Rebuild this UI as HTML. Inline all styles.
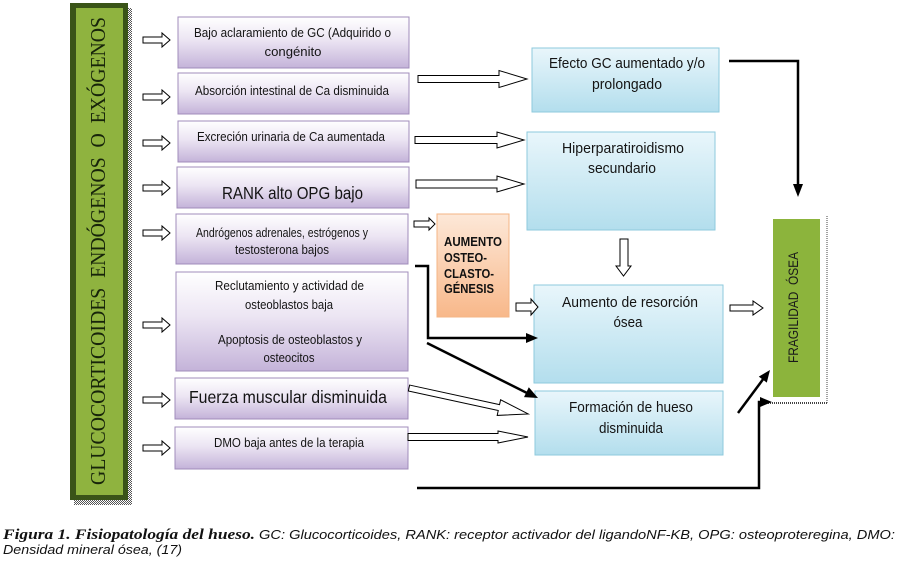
<!DOCTYPE html>
<html><head><meta charset="utf-8"><style>
html,body{margin:0;padding:0;background:#fff;}
svg{display:block;}
.bx{font-family:"Liberation Sans",sans-serif;fill:#141414;}
</style></head><body>
<svg width="898" height="565" viewBox="0 0 898 565" xmlns="http://www.w3.org/2000/svg">
<defs>
<linearGradient id="pu" x1="0" y1="0" x2="0" y2="1"><stop offset="0" stop-color="#ffffff"/><stop offset="0.45" stop-color="#ece5f3"/><stop offset="1" stop-color="#c4b3d9"/></linearGradient>
<linearGradient id="bl" x1="0" y1="0" x2="0" y2="1"><stop offset="0" stop-color="#e9f6fb"/><stop offset="1" stop-color="#b3deed"/></linearGradient>
<linearGradient id="or" x1="0" y1="0" x2="0" y2="1"><stop offset="0" stop-color="#fde8d8"/><stop offset="1" stop-color="#f8b88a"/></linearGradient>
<pattern id="dot" width="2" height="2" patternUnits="userSpaceOnUse"><rect width="1" height="1" fill="#555"/><rect x="1" y="1" width="1" height="1" fill="#555"/></pattern>
</defs>

<!-- left green bar -->
<rect x="74" y="8" width="58" height="497" fill="url(#dot)"/>
<rect x="70" y="3" width="58" height="497" fill="#3a5418"/>
<rect x="76" y="8" width="47" height="487" fill="#8fb33f"/>
<text transform="translate(105,485) rotate(-90)" font-family="'Liberation Serif',serif" font-size="21" fill="#17240a" textLength="468" lengthAdjust="spacingAndGlyphs" xml:space="preserve">GLUCOCORTICOIDES  ENDÓGENOS  O  EXÓGENOS</text>

<!-- left hollow arrows -->
<g fill="#fff" stroke="#000" stroke-width="1">
<polygon points="143,37 162,37 162,33 170,40 162,47 162,43 143,43"/>
<polygon points="143,94 162,94 162,90 170,97 162,104 162,100 143,100"/>
<polygon points="143,140 162,140 162,136 170,143 162,150 162,146 143,146"/>
<polygon points="143,185 162,185 162,181 170,188 162,195 162,191 143,191"/>
<polygon points="143,230 162,230 162,226 170,233 162,240 162,236 143,236"/>
<polygon points="143,322 162,322 162,318 170,325 162,332 162,328 143,328"/>
<polygon points="143,397 162,397 162,393 170,400 162,407 162,403 143,403"/>
<polygon points="143,445 162,445 162,441 170,448 162,455 162,451 143,451"/>
</g>

<!-- purple boxes -->
<g fill="url(#pu)" stroke="#a08cbb" stroke-width="1">
<rect x="178" y="17" width="231" height="51"/>
<rect x="178" y="73" width="231" height="41"/>
<rect x="178" y="121" width="231" height="41"/>
<rect x="177" y="167" width="232" height="41"/>
<rect x="176" y="214" width="232" height="50"/>
<rect x="176" y="272" width="232" height="99"/>
<rect x="175" y="378" width="233" height="41"/>
<rect x="175" y="427" width="233" height="42"/>
</g>
<g class="bx" font-size="12.5">
<text x="194" y="37" textLength="197" lengthAdjust="spacingAndGlyphs">Bajo aclaramiento de GC (Adquirido o</text>
<text x="293" y="56" text-anchor="middle" textLength="57" lengthAdjust="spacingAndGlyphs">congénito</text>
<text x="195" y="95" textLength="194" lengthAdjust="spacingAndGlyphs">Absorción intestinal de Ca disminuida</text>
<text x="197" y="141" textLength="188" lengthAdjust="spacingAndGlyphs">Excreción urinaria de Ca aumentada</text>
<text x="222" y="199" font-size="17.5" textLength="141" lengthAdjust="spacingAndGlyphs">RANK alto OPG bajo</text>
<text x="196" y="237" textLength="172" lengthAdjust="spacingAndGlyphs">Andrógenos adrenales, estrógenos y</text>
<text x="282" y="254" text-anchor="middle" textLength="94" lengthAdjust="spacingAndGlyphs">testosterona bajos</text>
<text x="215" y="290" textLength="149" lengthAdjust="spacingAndGlyphs">Reclutamiento y actividad de</text>
<text x="289" y="309" text-anchor="middle" textLength="88" lengthAdjust="spacingAndGlyphs">osteoblastos baja</text>
<text x="218" y="344" textLength="144" lengthAdjust="spacingAndGlyphs">Apoptosis de osteoblastos y</text>
<text x="289" y="362" text-anchor="middle" textLength="51" lengthAdjust="spacingAndGlyphs">osteocitos</text>
<text x="189" y="403" font-size="17.5" textLength="198" lengthAdjust="spacingAndGlyphs">Fuerza muscular disminuida</text>
<text x="214" y="447" textLength="150" lengthAdjust="spacingAndGlyphs">DMO baja antes de la terapia</text>
</g>

<!-- blue boxes -->
<g fill="url(#bl)" stroke="#8ecadd" stroke-width="1">
<rect x="532" y="48" width="187" height="64"/>
<rect x="527" y="132" width="188" height="98"/>
<rect x="534" y="285" width="189" height="98"/>
<rect x="535" y="391" width="188" height="64"/>
</g>
<g class="bx" font-size="14.5">
<text x="549" y="68" textLength="156" lengthAdjust="spacingAndGlyphs">Efecto GC aumentado y/o</text>
<text x="627" y="89" text-anchor="middle" textLength="70" lengthAdjust="spacingAndGlyphs">prolongado</text>
<text x="562" y="153" textLength="122" lengthAdjust="spacingAndGlyphs">Hiperparatiroidismo</text>
<text x="622" y="173" text-anchor="middle" textLength="68" lengthAdjust="spacingAndGlyphs">secundario</text>
<text x="562" y="307" textLength="136" lengthAdjust="spacingAndGlyphs">Aumento de resorción</text>
<text x="628" y="327" text-anchor="middle" textLength="29" lengthAdjust="spacingAndGlyphs">ósea</text>
<text x="569" y="412" textLength="124" lengthAdjust="spacingAndGlyphs">Formación de hueso</text>
<text x="631" y="433" text-anchor="middle" textLength="64" lengthAdjust="spacingAndGlyphs">disminuida</text>
</g>

<!-- orange box -->
<rect x="437" y="214" width="72" height="103" fill="url(#or)" stroke="#f4b585" stroke-width="1"/>
<g font-family="'Liberation Sans',sans-serif" font-weight="bold" font-size="12.5" fill="#111">
<text x="444" y="246" textLength="58" lengthAdjust="spacingAndGlyphs">AUMENTO</text>
<text x="444" y="262" textLength="43" lengthAdjust="spacingAndGlyphs">OSTEO-</text>
<text x="444" y="278" textLength="50" lengthAdjust="spacingAndGlyphs">CLASTO-</text>
<text x="444" y="293" textLength="50" lengthAdjust="spacingAndGlyphs">GÉNESIS</text>
</g>

<!-- fragility box -->
<rect x="768" y="216" width="59" height="187" fill="#fff"/>
<line x1="827" y1="216" x2="827" y2="403" stroke="#444" stroke-width="1" stroke-dasharray="1,1"/>
<line x1="768" y1="403" x2="827" y2="403" stroke="#444" stroke-width="2" stroke-dasharray="1,1"/>
<rect x="773" y="219" width="47" height="178" fill="#8cb43c"/>
<text transform="translate(798,363) rotate(-90)" font-family="'Liberation Sans',sans-serif" font-size="13.5" fill="#1a1a1a" textLength="111" lengthAdjust="spacingAndGlyphs" xml:space="preserve">FRAGILIDAD  ÓSEA</text>

<!-- hollow arrows right side -->
<g fill="#fff" stroke="#000" stroke-width="1">
<polygon points="418,75.5 499,75.5 499,70.5 527,79 499,87.5 499,82.5 418,82.5"/>
<polygon points="415,136.5 497,136.5 497,132 524,140 497,148 497,143.5 415,143.5"/>
<polygon points="416,180 497,180 497,176 524,184 497,192 497,188 416,188"/>
<polygon points="414,221 429,221 429,218 435,224 429,230 429,227 414,227"/>
<polygon points="620,239 628,239 628,266 631,266 623.5,276 616,266 620,266"/>
<polygon points="516,303 531,303 531,299 538,307 531,315 531,311 516,311"/>
<polygon points="730,305 753,305 753,301 763,308 753,315 753,311 730,311"/>
<polygon transform="translate(409,388) rotate(12.3)" points="0,-3 92,-3 92,-8 122,0 92,8 92,3 0,3"/>
<polygon points="408,433.5 498,433.5 498,431 528,437 498,443 498,440.5 408,440.5"/>
</g>

<!-- black connectors -->
<g stroke="#000" stroke-width="2.5" fill="none">
<polyline points="729,61 798,61 798,186"/>
<polyline points="415,266 428,266 428,338 527,338"/>
<line x1="427" y1="343" x2="527" y2="393"/>
<line x1="738" y1="413" x2="764" y2="378"/>
<polyline points="417,488 759,488 759,402 762,402"/>
</g>
<g fill="#000">
<polygon points="793,184 803,184 798,197"/>
<polygon points="526,333 538,338 526,343"/>
<polygon points="528.8,387.3 524,397.1 538,398"/>
<polygon points="766.8,382.6 758.8,376.6 770,370"/>
<polygon points="760,397 772,402 760,407"/>
</g>

<!-- caption -->
<text x="3" y="539" font-family="'Liberation Serif',serif" font-weight="bold" font-style="italic" font-size="14.5" fill="#111" textLength="252" lengthAdjust="spacingAndGlyphs">Figura 1. Fisiopatología del hueso.</text>
<text x="259" y="539" font-family="'Liberation Sans',sans-serif" font-style="italic" font-size="13" fill="#111" textLength="636" lengthAdjust="spacingAndGlyphs">GC: Glucocorticoides, RANK: receptor activador del ligandoNF-KB, OPG: osteoproteregina, DMO:</text>
<text x="3" y="554" font-family="'Liberation Sans',sans-serif" font-style="italic" font-size="13" fill="#111" textLength="179" lengthAdjust="spacingAndGlyphs">Densidad mineral ósea, (17)</text>
</svg>
</body></html>
